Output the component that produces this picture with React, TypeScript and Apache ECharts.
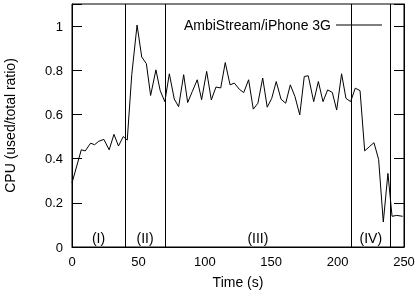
import React, { useEffect, useRef } from "react";
import * as echarts from "echarts";

const times = [0, 7, 10, 14, 17, 20, 24, 28, 31.6, 35, 38.6, 41.6, 45, 49, 52.5, 56, 59.2, 63.2, 66.4, 69.9, 73.3, 77, 80.3, 84.1, 87.1, 90.6, 94.3, 97.6, 101.4, 104.9, 108.4, 112, 115.4, 119, 122.2, 126, 129.3, 133, 136.5, 140, 143.6, 147, 150.4, 153.8, 157.4, 160.9, 164.4, 167.9, 171.5, 174.9, 177.9, 182, 185.5, 189, 192.5, 196, 199.3, 203, 206.3, 209.8, 213.3, 216.9, 220.4, 223.9, 227.4, 230.9, 234.4, 237.9, 241, 244.5, 249];
const cpu = [0.29, 0.44, 0.435, 0.47, 0.463, 0.478, 0.487, 0.44, 0.51, 0.457, 0.5, 0.484, 0.78, 1.005, 0.86, 0.83, 0.686, 0.802, 0.708, 0.658, 0.784, 0.67, 0.635, 0.78, 0.654, 0.704, 0.757, 0.667, 0.795, 0.666, 0.724, 0.72, 0.835, 0.734, 0.742, 0.714, 0.699, 0.757, 0.624, 0.651, 0.765, 0.633, 0.673, 0.749, 0.669, 0.651, 0.734, 0.681, 0.598, 0.772, 0.775, 0.658, 0.749, 0.658, 0.711, 0.7, 0.62, 0.784, 0.673, 0.658, 0.719, 0.708, 0.435, 0.454, 0.472, 0.396, 0.113, 0.333, 0.139, 0.143, 0.139];
const phaseBounds = [40, 70, 210, 240];
const phaseLabels = ["(I)", "(II)", "(III)", "(IV)"];
const phaseCenters = [20, 55, 140, 225];
const seriesName = "AmbiStream/iPhone 3G";

export default function App() {
  const ref = useRef<HTMLDivElement>(null);
  useEffect(() => {
    if (!ref.current) return;
    const chart = echarts.init(ref.current, undefined, { renderer: "svg" });
    const font = "Liberation Sans, Arial, sans-serif";
    chart.setOption({
      animation: false,
      grid: {
        left: 72, right: 12, top: 4, bottom: 50,
        outerBoundsMode: "none",
        containLabel: false,
        show: true, borderColor: "#000", borderWidth: 1, backgroundColor: "transparent",
      },
      legend: {
        data: [{ name: seriesName }],
        right: 29, top: 13, align: "right",
        icon: "rect", itemWidth: 46, itemHeight: 1,
        textStyle: { fontFamily: font, fontSize: 14, color: "#000" },
      },
      xAxis: {
        type: "value", min: 0, max: 250, interval: 50,
        name: "Time (s)", nameLocation: "middle", nameGap: 28,
        nameTextStyle: { fontFamily: font, fontSize: 14, color: "#000" },
        axisLine: { show: true, lineStyle: { color: "#000", width: 1 } },
        axisTick: { show: false },
        splitLine: { show: false },
        axisLabel: { fontFamily: font, fontSize: 13, color: "#000", margin: 8 },
      },
      yAxis: [
        {
          type: "value", min: 0, max: 1.1, interval: 0.2,
          name: "CPU (used/total ratio)", nameLocation: "middle", nameGap: 55,
          nameTextStyle: { fontFamily: font, fontSize: 14, color: "#000" },
          axisLine: { show: true, lineStyle: { color: "#000", width: 1 } },
          axisTick: { show: true, inside: true, length: 10, lineStyle: { color: "#000" } },
          splitLine: { show: false },
          axisLabel: {
            fontFamily: font, fontSize: 13, color: "#000", margin: 9,
            formatter: (v: number) => (v > 1.05 ? "" : String(Math.round(v * 10) / 10)),
          },
        },
        {
          type: "value", min: 0, max: 1.1, interval: 0.2, position: "right",
          axisLine: { show: true, lineStyle: { color: "#000", width: 1 } },
          axisTick: { show: true, inside: true, length: 10, lineStyle: { color: "#000" } },
          axisLabel: { show: false },
          splitLine: { show: false },
        },
      ],
      series: [
        {
          name: seriesName,
          type: "line",
          data: times.map((t, i) => [t, cpu[i]]),
          showSymbol: false,
          symbol: "none",
          lineStyle: { color: "#000", width: 1 },
          itemStyle: { color: "#000" },
          markLine: {
            silent: true,
            symbol: ["none", "none"],
            label: { show: false },
            lineStyle: { color: "#000", width: 1, type: "solid" },
            data: phaseBounds.map((x) => ({ xAxis: x })),
          },
        },
        {
          name: "phases",
          type: "scatter",
          symbolSize: 0,
          itemStyle: { color: "#000", opacity: 1 },
          data: phaseCenters.map((x, i) => ({ value: [x, 0.043], name: phaseLabels[i] })),
          label: {
            show: true, position: "inside", formatter: (p: any) => p.name,
            fontFamily: font, fontSize: 14, color: "#000", textBorderWidth: 0,
          },
          silent: true,
        },
      ],
    });
    return () => chart.dispose();
  }, []);
  return <div ref={ref} style={{ position: "fixed", left: 0, top: 0, width: 416, height: 297 }} />;
}
